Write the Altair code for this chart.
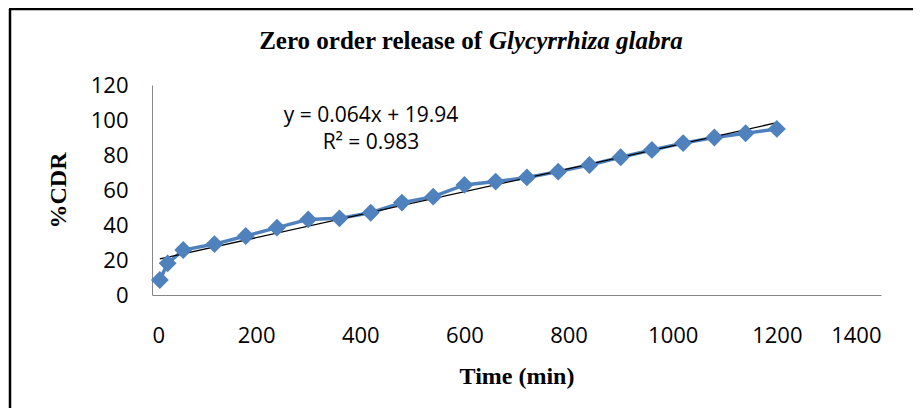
import altair as alt
import pandas as pd

# Data
time_min = [15, 30, 60, 120, 180, 240, 300, 360, 420, 480, 540, 600, 660, 720,
            780, 840, 900, 960, 1020, 1080, 1140, 1200]
cdr = [8.6, 18.1, 25.7, 29.1, 33.7, 38.5, 43.2, 43.8, 47.0, 52.8, 56.2, 62.9,
       64.8, 67.2, 70.5, 74.3, 78.7, 82.9, 86.8, 90.0, 92.4, 94.9]
x_ticks = [0, 200, 400, 600, 800, 1000, 1200, 1400]
y_ticks = [0, 20, 40, 60, 80, 100, 120]
eq_text = "y = 0.064x + 19.94"
r2_text = "R² = 0.983"
title_plain = "Zero order release of"
title_italic = "Glycyrrhiza glabra"

df = pd.DataFrame({"t": time_min, "cdr": cdr})
one = pd.DataFrame({"a": [0]})

BLUE = "#4F81BD"
AX = "#868686"

xs = alt.Scale(domain=[0, 1400], nice=False, zero=False)
ys = alt.Scale(domain=[0, 120], nice=False)

x_axis = alt.Axis(values=x_ticks, grid=False, ticks=False, domainColor=AX,
                  domainWidth=1, labelFont="Open Sans", labelFontSize=22,
                  labelColor="#000000", labelPadding=30, labelOverlap=False,
                  format="d", title="Time (min)",
                  titleFont="Liberation Serif", titleFontSize=24,
                  titleFontWeight="bold", titleColor="#000000", titlePadding=18)
y_axis = alt.Axis(values=y_ticks, grid=False, ticks=False, domainColor=AX,
                  domainWidth=1, labelFont="Open Sans", labelFontSize=22,
                  labelColor="#000000", labelPadding=24, labelOverlap=False,
                  format="d", title="%CDR",
                  titleFont="Liberation Serif", titleFontSize=24,
                  titleFontWeight="bold", titleColor="#000000", titlePadding=20)

X = alt.X("t:Q", scale=xs, axis=x_axis)
Y = alt.Y("cdr:Q", scale=ys, axis=y_axis)

base = alt.Chart(df)

line = base.mark_line(color=BLUE, strokeWidth=3.5).encode(x=X, y=Y)
pts = base.mark_point(shape="diamond", filled=True, size=320, color=BLUE,
                      opacity=1).encode(x=X, y=Y)
trend = base.transform_regression("t", "cdr", method="linear").mark_line(
    color="#000000", strokeWidth=1.3).encode(x=X, y=Y)

# outer chart-area border drawn as two rules (left and top edges of the box)
frame_left = alt.Chart(one).mark_rule(color="#000000", strokeWidth=2.5).encode(
    x=alt.value(-142), y=alt.value(-76), y2=alt.value(500))
frame_top = alt.Chart(one).mark_rule(color="#000000", strokeWidth=2.5).encode(
    x=alt.value(-143), x2=alt.value(1000), y=alt.value(-76))

# hide the top and right edges of the plot box (reference shows only left/bottom axes)
hide_top = alt.Chart(one).mark_rule(color="white", strokeWidth=3).encode(
    x=alt.value(1.5), x2=alt.value(732), y=alt.value(0))
hide_right = alt.Chart(one).mark_rule(color="white", strokeWidth=3).encode(
    x=alt.value(729), y=alt.value(-2), y2=alt.value(208.5))

t1 = alt.Chart(one).mark_text(text=title_plain, font="Liberation Serif",
                              fontSize=25, fontWeight="bold", align="right",
                              baseline="alphabetic", color="#000000").encode(
    x=alt.value(330), y=alt.value(-36))
t2 = alt.Chart(one).mark_text(text=title_italic, font="Liberation Serif",
                              fontSize=25, fontWeight="bold", fontStyle="italic",
                              align="left", baseline="alphabetic",
                              color="#000000").encode(
    x=alt.value(337), y=alt.value(-36))
eq = alt.Chart(one).mark_text(text=eq_text, font="Open Sans", fontSize=21,
                              align="center", baseline="alphabetic",
                              color="#000000").encode(
    x=alt.value(219), y=alt.value(37))
r2 = alt.Chart(one).mark_text(text=r2_text, font="Open Sans", fontSize=21,
                              align="center", baseline="alphabetic",
                              color="#000000").encode(
    x=alt.value(219), y=alt.value(64))

chart = alt.layer(frame_left, frame_top, hide_top, hide_right, line, trend, pts,
                  t1, t2, eq, r2).properties(
    width=729, height=210,
    padding={"left": 144, "top": 77, "right": 32, "bottom": 113},
    autosize=alt.AutoSizeParams(type="none"),
    background="white",
).configure_view(stroke=None, strokeWidth=0).configure_axis(labelOverlap=False)

chart.save("out.html", embed_options={"renderer": "svg", "actions": False})
